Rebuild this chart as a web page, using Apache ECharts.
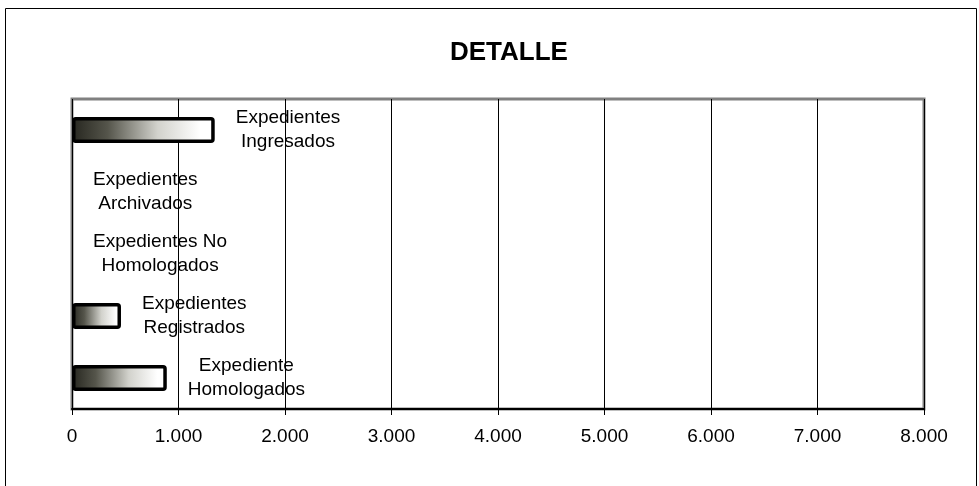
<!DOCTYPE html>
<html>
<head>
  <meta charset="utf-8">
  <title>DETALLE</title>
  <script src="https://cdn.jsdelivr.net/npm/echarts@6/dist/echarts.min.js"></script>
  <style>
    html, body { margin: 0; padding: 0; background: #fff; }
  </style>
</head>
<body>
  <div id="main" style="width: 979px;height:486px;"></div>

  <script>
    // categorias de arriba hacia abajo
    const categorias = [
      ["Expedientes", "Ingresados"],
      ["Expedientes", "Archivados"],
      ["Expedientes No", "Homologados"],
      ["Expedientes", "Registrados"],
      ["Expediente", "Homologados"]
    ];
    const valores = [1340, 0, 0, 460, 890];
    const ticksX = [0, 1000, 2000, 3000, 4000, 5000, 6000, 7000, 8000];

    const fuente = "'Liberation Sans', Arial, sans-serif";

    function miles(v) {
      return String(v).replace(/\B(?=(\d{3})+(?!\d))/g, ".");
    }

    const degradado = new echarts.graphic.LinearGradient(0, 0, 1, 0, [
      { offset: 0, color: "#26261f" },
      { offset: 0.25, color: "#55554b" },
      { offset: 0.6, color: "#d2d2cc" },
      { offset: 0.9, color: "#ffffff" },
      { offset: 1, color: "#ffffff" }
    ]);

    const datos = valores.map(function (v) {
      return v === 0 ? { value: v, itemStyle: { borderWidth: 0 } } : v;
    });

    const chart = echarts.init(document.getElementById("main"));
    const option = {
      animation: false,
      title: {
        text: "DETALLE",
        left: 445,
        top: 35,
        textStyle: { fontFamily: fuente, fontSize: 26, fontWeight: "bold", color: "#000" }
      },
      graphic: [{
        type: "rect",
        shape: { x: 5.5, y: 8.5, width: 971, height: 500 },
        style: { fill: "none", stroke: "#000", lineWidth: 1 },
        silent: true
      }],
      grid: {
        left: 72, right: 55, top: 99, bottom: 77,
        show: true,
        borderColor: "#808080",
        borderWidth: 3
      },
      xAxis: {
        type: "value",
        min: ticksX[0],
        max: ticksX[ticksX.length - 1],
        interval: 1000,
        axisLine: { show: true, lineStyle: { color: "#000", width: 2 } },
        axisTick: { show: true, length: 6, lineStyle: { color: "#000", width: 1 } },
        axisLabel: {
          margin: 18,
          color: "#000",
          fontFamily: fuente,
          fontSize: 19,
          formatter: miles
        },
        splitLine: { show: true, lineStyle: { color: "#000", width: 1 } }
      },
      yAxis: {
        type: "category",
        inverse: true,
        data: categorias.map(function (c) { return c.join(" "); }),
        axisLine: { show: false },
        axisTick: { show: false },
        axisLabel: { show: false }
      },
      series: [{
        type: "bar",
        barWidth: 26,
        data: datos,
        itemStyle: {
          color: degradado,
          borderColor: "#000",
          borderWidth: 3.5,
          borderRadius: 2
        },
        label: {
          show: true,
          position: "right",
          distance: 21,
          formatter: function (p) {
            const c = categorias[p.dataIndex];
            return "{c|" + c[0] + "}\n{c|" + c[1] + "}";
          },
          rich: {
            c: {
              align: "center",
              color: "#000",
              fontFamily: fuente,
              fontSize: 19,
              lineHeight: 24
            }
          }
        }
      }]
    };
    chart.setOption(option);
  </script>
</body>
</html>
